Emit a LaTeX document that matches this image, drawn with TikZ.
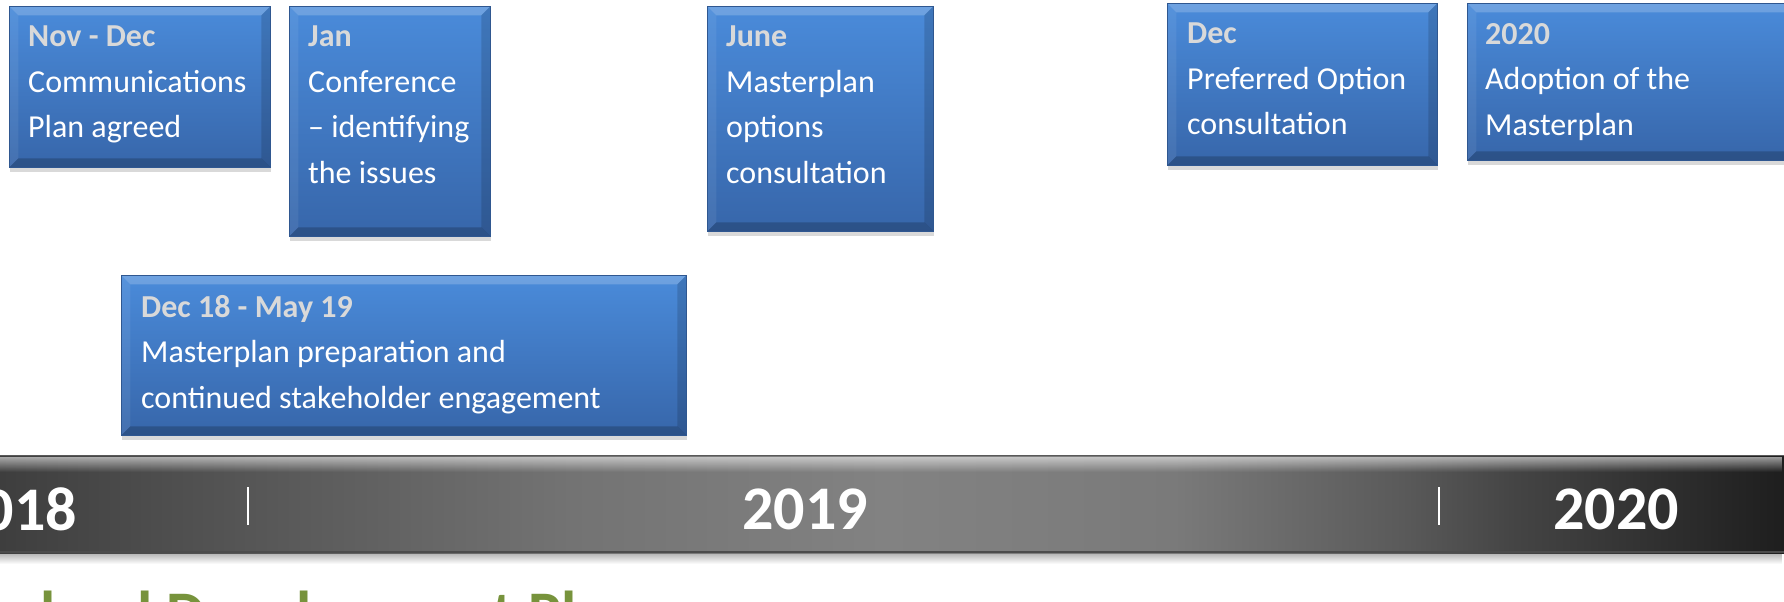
\documentclass[tikz,border=0pt]{standalone}
\usepackage{fontspec}
\setmainfont{Carlito}
\usetikzlibrary{shadows,fadings}
\definecolor{boxtop}{HTML}{4A8BDA}
\definecolor{boxbot}{HTML}{3766AA}
\definecolor{boxhead}{HTML}{D9D9D9}
\definecolor{plangreen}{HTML}{77933C}
\definecolor{bar0}{HTML}{3E3E3E}
\definecolor{bar1}{HTML}{565656}
\definecolor{bar2}{HTML}{737373}
\definecolor{bar3}{HTML}{828282}
\definecolor{bar4}{HTML}{7A7A7A}
\definecolor{bar5}{HTML}{5A5A5A}
\definecolor{bar6}{HTML}{444444}
\definecolor{bar7}{HTML}{1E1E1E}
\pgfdeclarehorizontalshading{barshade}{100bp}{color(0bp)=(bar0); color(25bp)=(bar0);
  color(32bp)=(bar1); color(41bp)=(bar2); color(49.8bp)=(bar3); color(57.9bp)=(bar4);
  color(64.3bp)=(bar5); color(67.5bp)=(bar6); color(75bp)=(bar7); color(100bp)=(bar7)}
\tikzfading[name=fade down, top color=transparent!0, bottom color=transparent!100]
\begin{document}
\begin{tikzpicture}[x=1bp,y=-1bp,
  tlbox/.style={rectangle, inner sep=0pt, anchor=north west,
    top color=boxtop, bottom color=boxbot, draw=boxbot!85!black, line width=0.6bp,
    drop shadow={shadow xshift=1bp, shadow yshift=-5bp, opacity=0.3},
    path picture={
      \fill[white,opacity=.2] (path picture bounding box.north west) -- (path picture bounding box.north east)
        -- ([shift={(-9bp,-9bp)}]path picture bounding box.north east) -- ([shift={(9bp,-9bp)}]path picture bounding box.north west) -- cycle;
      \fill[black,opacity=.14] (path picture bounding box.north east) -- (path picture bounding box.south east)
        -- ([shift={(-9bp,9bp)}]path picture bounding box.south east) -- ([shift={(-9bp,-9bp)}]path picture bounding box.north east) -- cycle;
      \fill[black,opacity=.2] (path picture bounding box.south west) -- (path picture bounding box.south east)
        -- ([shift={(-9bp,9bp)}]path picture bounding box.south east) -- ([shift={(9bp,9bp)}]path picture bounding box.south west) -- cycle;
      \fill[white,opacity=.07] (path picture bounding box.north west) -- (path picture bounding box.south west)
        -- ([shift={(9bp,9bp)}]path picture bounding box.south west) -- ([shift={(9bp,-9bp)}]path picture bounding box.north west) -- cycle;
    }},
  tltext/.style={anchor=north west, inner sep=0pt, align=left, text=white,
    font=\fontsize{32bp}{45.5bp}\selectfont},
  year/.style={inner sep=0pt, text=white, font=\fontsize{62bp}{62bp}\selectfont\bfseries},
]
  \useasboundingbox (0,0) rectangle (1784,602);
  \clip (0,0) rectangle (1784,602);
%%
  % Timeline bar
  \fill[black,opacity=.3,path fading=fade down] (0,553) rectangle (1784,564);
  \shade[shading=barshade] (0,455) rectangle (1784,553);
  \fill[white,opacity=.55,path fading=fade down] (0,457) rectangle (1784,472);
  \draw[black!65,line width=1.5bp] (0,455.5) -- (1784,455.5);
  \draw[black!70,line width=2bp] (0,552) -- (1784,552);
  \draw[white,line width=1.2bp] (248,487) -- (248,525);
  \draw[white,line width=1.2bp] (1439,487) -- (1439,525);
  % Years
  \node[year] (y2018) at (14,509) {2018};
  \node[year] (y2019) at (805,509) {2019};
  \node[year] (y2020) at (1616,509) {2020};
  % Node: Nov - Dec
  \node[tlbox, minimum width=261bp, minimum height=161bp] (novdec) at (9,6) {};
  \node[tltext] (novdectxt) at ([shift={(19bp,-20bp)}]novdec.north west)
    {\textcolor{boxhead}{\bfseries Nov - Dec}\\Communications\\Plan agreed};
  % Node: Jan
  \node[tlbox, minimum width=201bp, minimum height=230bp] (jan) at (289,6) {};
  \node[tltext] (jantxt) at ([shift={(19bp,-20bp)}]jan.north west)
    {\textcolor{boxhead}{\bfseries Jan}\\Conference\\– identifying\\the issues};
  % Node: June
  \node[tlbox, minimum width=226bp, minimum height=225bp] (june) at (707,6) {};
  \node[tltext] (junetxt) at ([shift={(19bp,-20bp)}]june.north west)
    {\textcolor{boxhead}{\bfseries June}\\Masterplan\\options\\consultation};
  % Node: Dec 18 - May 19
  \node[tlbox, minimum width=565bp, minimum height=160bp] (prep) at (121,275) {};
  \node[tltext] (preptxt) at ([shift={(20bp,-20bp)}]prep.north west)
    {\textcolor{boxhead}{\bfseries Dec 18 - May 19}\\Masterplan preparation and\\continued stakeholder engagement};
  % Node: Dec
  \node[tlbox, minimum width=270bp, minimum height=162bp] (dec) at (1167,3) {};
  \node[tltext] (dectxt) at ([shift={(20bp,-20bp)}]dec.north west)
    {\textcolor{boxhead}{\bfseries Dec}\\Preferred Option\\consultation};
  % Node: 2020
  \node[tlbox, minimum width=330bp, minimum height=157bp] (adopt) at (1467,3) {};
  \node[tltext] (adopttxt) at ([shift={(18bp,-20bp)}]adopt.north west)
    {\textcolor{boxhead}{\bfseries 2020}\\Adoption of the\\Masterplan};
  % Title (cut off)
  \node[anchor=base west, inner sep=0pt, text=plangreen, font=\fontsize{62bp}{62bp}\selectfont\bfseries]
    (ldp) at (40,634) {land Development Plan};
%
\end{tikzpicture}
\end{document}
